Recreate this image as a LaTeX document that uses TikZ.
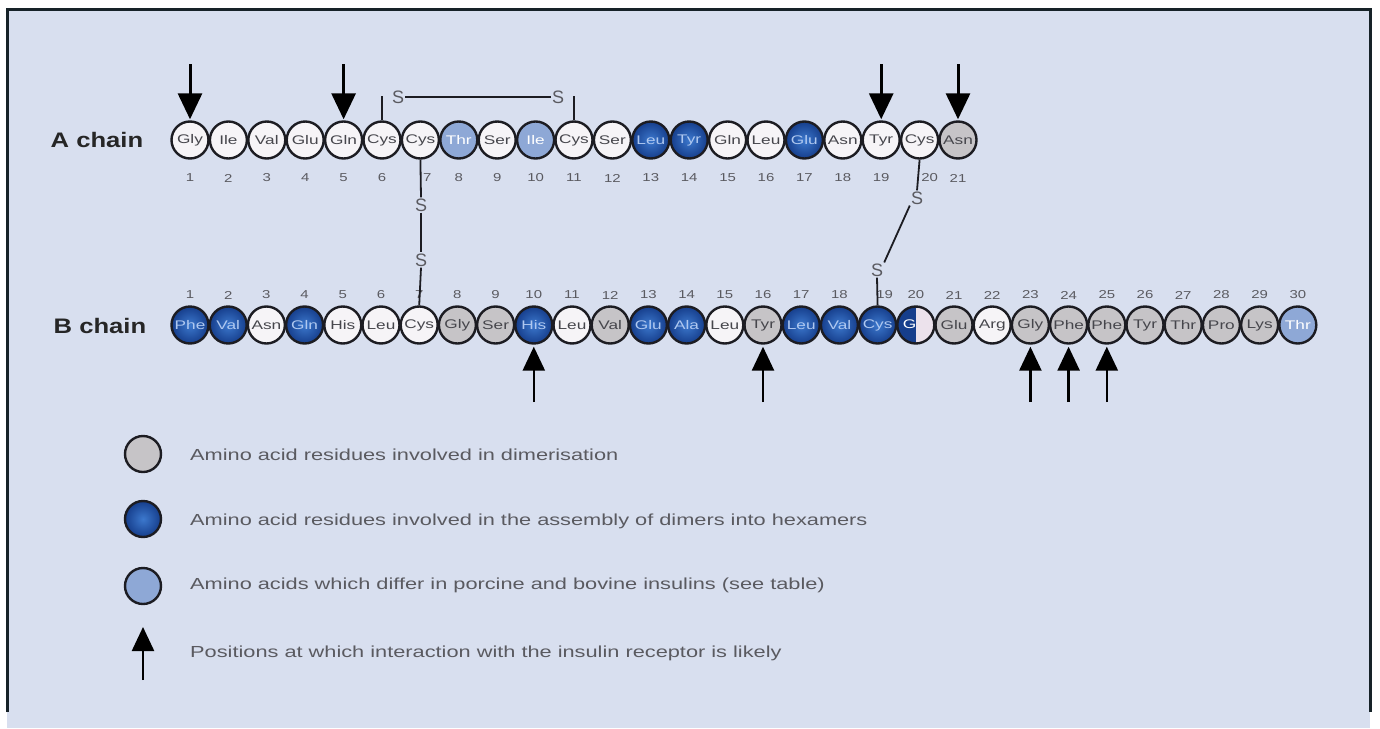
\documentclass[tikz,border=0pt]{standalone}
\usepackage{fontspec}
\usepackage{graphicx}
\setmainfont{Liberation Sans}
\usetikzlibrary{arrows.meta,calc}
\definecolor{bgc}{RGB}{216,223,239}
\definecolor{framec}{RGB}{22,34,40}
\definecolor{rimc}{RGB}{28,28,34}
\definecolor{whc}{RGB}{246,244,247}
\definecolor{grc}{RGB}{198,196,199}
\definecolor{lbc}{RGB}{142,168,214}
\definecolor{dbin}{RGB}{60,120,205}
\definecolor{dbout}{RGB}{22,62,140}
\definecolor{dbtxt}{RGB}{175,200,240}
\definecolor{pinkc}{RGB}{236,226,236}
\definecolor{txc}{RGB}{70,70,76}
\definecolor{numc}{RGB}{90,90,96}
\newcommand{\hsc}[1]{\scalebox{1.38}[1]{#1}}
\newcommand{\nsc}[1]{\scalebox{1.3}[1]{#1}}
\newcommand{\lsc}[1]{\scalebox{1.22}[1]{#1}}
\newcommand{\tsc}[1]{\scalebox{1.36}[1]{#1}}
\begin{document}
\begin{tikzpicture}[x=1pt,y=-1pt,
  res/.style={circle,draw=rimc,line width=2.4pt,minimum size=37pt,inner sep=0pt,font=\fontsize{12.5}{12.5}\selectfont},
  wh/.style={res,fill=whc,text=txc},
  gr/.style={res,fill=grc,text=txc},
  lb/.style={res,fill=lbc,text=white},
  db/.style={res,inner color=dbin,outer color=dbout,text=dbtxt},
  num/.style={font=\fontsize{11.5}{11.5}\selectfont,text=numc,inner sep=0pt},
  sul/.style={font=\fontsize{18}{18}\selectfont,text=numc,inner sep=1pt},
  bond/.style={line width=1.8pt,draw=rimc},
  downarr/.style={line width=3pt,draw=black,-{Triangle[length=26pt,width=24pt]}},
  uparr/.style={line width=2.6pt,draw=black,-{Triangle[length=24pt,width=22pt]}},
  chainlbl/.style={font=\fontsize{21}{21}\selectfont\bfseries,text=black!85},
  legtxt/.style={anchor=west,font=\fontsize{16}{16}\selectfont,text=numc,inner sep=0pt}
]
\useasboundingbox (0,0) rectangle (1380,728);
\fill[white] (0,0) rectangle (1380,728);
\fill[bgc] (7,9) rectangle (1370,728);
\draw[framec,line width=3pt] (7,712) -- (7,9) -- (1370,9) -- (1370,712);

% chain labels
\node[chainlbl] (alabel) at (97,140) {\lsc{A chain}};
\node[chainlbl] (blabel) at (100,326) {\lsc{B chain}};

% A chain
\foreach \nm/\st [count=\i] in {Gly/wh,Ile/wh,Val/wh,Glu/wh,Gln/wh,Cys/wh,Cys/wh,Thr/lb,Ser/wh,Ile/lb,Cys/wh,Ser/wh,Leu/db,Tyr/db,Gln/wh,Leu/wh,Glu/db,Asn/wh,Tyr/wh,Cys/wh,Asn/gr}{
  \node[\st] (a\i) at ({190+(\i-1)*38.4},140) {\hsc{\nm}};
}
\foreach \i in {1,...,21}{
  \ifnum\i=7
    \node[num] (an\i) at ({190+(\i-1)*38.4+7},178) {\nsc{\i}};
  \else\ifnum\i=20
    \node[num] (an\i) at ({190+(\i-1)*38.4+10},178) {\nsc{\i}};
  \else
    \node[num] (an\i) at ({190+(\i-1)*38.4},178) {\nsc{\i}};
  \fi\fi
}

% B chain
\foreach \nm/\st [count=\i] in {Phe/db,Val/db,Asn/wh,Gln/db,His/wh,Leu/wh,Cys/wh,Gly/gr,Ser/gr,His/db,Leu/wh,Val/gr,Glu/db,Ala/db,Leu/wh,Tyr/gr,Leu/db,Val/db,Cys/db,X/wh,Glu/gr,Arg/wh,Gly/gr,Phe/gr,Phe/gr,Tyr/gr,Thr/gr,Pro/gr,Lys/gr,Thr/lb}{
  \ifnum\i=20
    \node[res,fill=pinkc,text=white,
      path picture={\fill[dbout] (path picture bounding box.south west) rectangle (path picture bounding box.north);}]
      (b\i) at ({190+(\i-1)*38.2},325) {\hsc{G\phantom{ly}}};
  \else
    \node[\st] (b\i) at ({190+(\i-1)*38.2},325) {\hsc{\nm}};
  \fi
}
\foreach \i in {1,...,30}{
  \ifnum\i=19
    \node[num] (bn\i) at ({190+(\i-1)*38.2+7},295) {\nsc{\i}};
  \else
    \node[num] (bn\i) at ({190+(\i-1)*38.2},295) {\nsc{\i}};
  \fi
}

% disulfide A6-A11
\node[sul] (s1) at (398,97) {S};
\node[sul] (s2) at (558,97) {S};
\draw[bond] (a6.north) -- ++(0,-24);
\draw[bond] (a11.north) -- ++(0,-24);
\draw[bond] (s1.east) -- (s2.west);

% disulfide A7-B7
\node[sul] (s3) at (421,205) {S};
\node[sul] (s4) at (421,260) {S};
\draw[bond] (a7.south) -- (s3.north);
\draw[bond] (s3.south) -- (s4.north);
\draw[bond] (s4.south) -- (b7.north);

% disulfide A20-B19
\node[sul] (s5) at (917,198) {S};
\node[sul] (s6) at (877,270) {S};
\draw[bond] (a20.south) -- (s5.north);
\draw[bond] (s5.south west) -- (s6.north east);
\draw[bond] (s6.south) -- (b19.north);

% receptor arrows on A chain
\foreach \k in {1,5,19,21}{
  \coordinate (at\k) at ($(a\k.center)+(0,-76)$);
  \draw[downarr] (at\k) -- ($(a\k.north)+(0,-1)$);
}
% receptor arrows on B chain
\foreach \k in {10,16,23,24,25}{
  \coordinate (bt\k) at ($(b\k.center)+(0,77)$);
  \draw[uparr] (bt\k) -- ($(b\k.south)+(0,2)$);
}

% legend
\node[gr,minimum size=36pt] (l1) at (143,454) {};
\node[db,minimum size=36pt] (l2) at (143,519) {};
\node[lb,minimum size=36pt] (l3) at (143,586) {};
\coordinate (l4a) at (143,680);
\coordinate (l4b) at (143,627);
\draw[uparr,line width=2.4pt] (l4a) -- (l4b);
\node[legtxt] (t1) at (190,455) {\tsc{Amino acid residues involved in dimerisation}};
\node[legtxt] (t2) at (190,521) {\tsc{Amino acid residues involved in the assembly of dimers into hexamers}};
\node[legtxt] (t3) at (190,585) {\tsc{Amino acids which differ in porcine and bovine insulins (see table)}};
\node[legtxt] (t4) at (190,653) {\tsc{Positions at which interaction with the insulin receptor is likely}};
\end{tikzpicture}
\end{document}
